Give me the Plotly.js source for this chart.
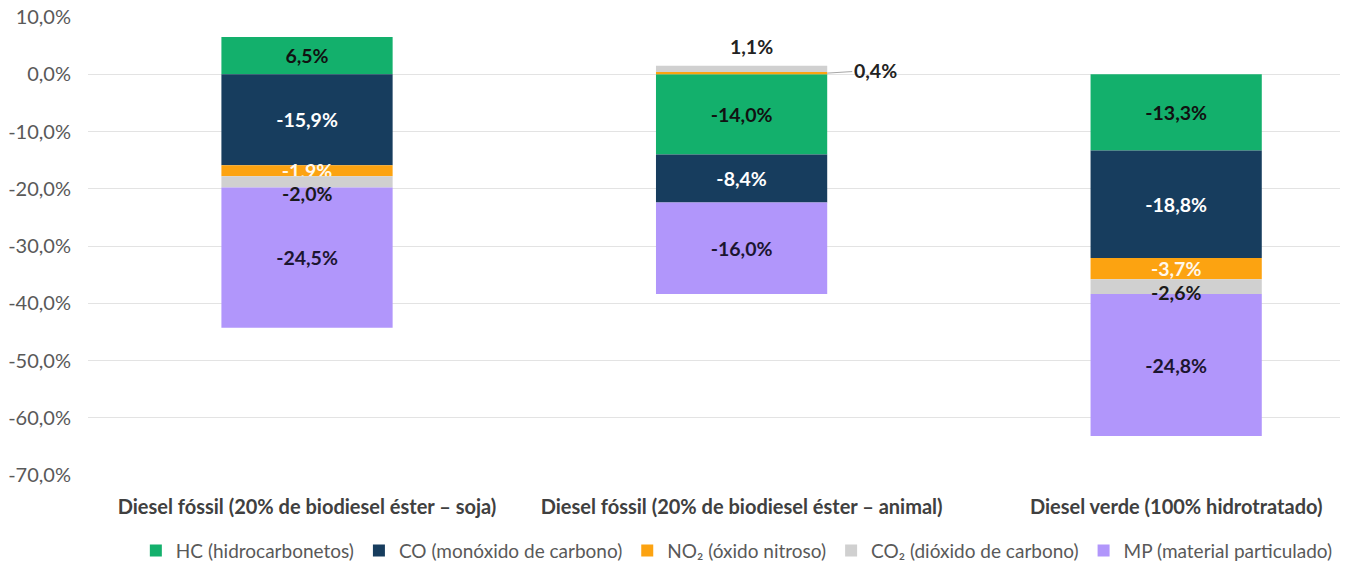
<!DOCTYPE html>
<html>
<head>
<meta charset="utf-8">
<script src="https://cdn.plot.ly/plotly-3.0.1.min.js"></script>
<style>html,body{margin:0;padding:0;background:#fff;}#chart{width:1352px;height:566px;}</style>
</head>
<body>
<div id="chart"></div>
<script>
const categories = [
  "Diesel fóssil (20% de biodiesel éster – soja)",
  "Diesel fóssil (20% de biodiesel éster – animal)",
  "Diesel verde (100% hidrotratado)"
];
const seriesNames = [
  "HC (hidrocarbonetos)",
  "CO (monóxido de carbono)",
  "NO₂ (óxido nitroso)",
  "CO₂ (dióxido de carbono)",
  "MP (material particulado)"
];
const hcValues  = [6.5, -14.0, -13.3];
const coValues  = [-15.9, -8.4, -18.8];
const no2Values = [-1.9, 0.4, -3.7];
const co2Values = [-2.0, 1.1, -2.6];
const mpValues  = [-24.5, -16.0, -24.8];
const yTickVals = [10, 0, -10, -20, -30, -40, -50, -60, -70];
const yTickText = ["10,0%", "0,0%", "-10,0%", "-20,0%", "-30,0%", "-40,0%", "-50,0%", "-60,0%", "-70,0%"];

const colors = ["#13b06c", "#173d5e", "#fca311", "#d0d0d0", "#b196fb"];
const textColors = ["#111111", "#ffffff", "#fff8ec", "#1a1a1a", "#1c1530"];
const allValues = [hcValues, coValues, no2Values, co2Values, mpValues];

const fmt = v => v.toFixed(1).replace(".", ",") + "%";
const FONT = "Lato, 'Open Sans', sans-serif";
const LABEL_SIZE = 19.5;

// CO2 labels (index 3) and small positive labels are drawn as annotations
const annotated = (si, ci) => si === 3 || (allValues[si][ci] > 0 && allValues[si][ci] < 2);

const traces = allValues.map((vals, si) => ({
  type: "bar",
  name: seriesNames[si],
  x: categories,
  y: vals,
  width: 0.394,
  marker: {color: colors[si], line: {width: 0}},
  text: vals.map((v, ci) => annotated(si, ci) ? "" : fmt(v)),
  textposition: "inside",
  insidetextanchor: "middle",
  constraintext: "none",
  textangle: 0,
  textfont: {family: FONT, size: LABEL_SIZE, color: textColors[si], weight: "bold"},
  hoverinfo: "skip"
}));

// compute stack positions (relative mode) to place annotations
function stackBounds(si, ci) {
  let pos = 0, neg = 0;
  for (let k = 0; k < si; k++) {
    const v = allValues[k][ci];
    if (v >= 0) pos += v; else neg += v;
  }
  const v = allValues[si][ci];
  return v >= 0 ? [pos, pos + v] : [neg, neg + v];
}

const annotations = [];
categories.forEach((cat, ci) => {
  const v = co2Values[ci];
  const [b0, b1] = stackBounds(3, ci);
  if (v < 0) {
    annotations.push({
      x: cat, y: b1, xref: "x", yref: "y",
      text: "<b>" + fmt(v) + "</b>", showarrow: false,
      yanchor: "middle", yshift: ci === 0 ? -6 : 2,
      font: {family: FONT, size: LABEL_SIZE, color: textColors[3]}
    });
  } else {
    annotations.push({
      x: cat, y: b1, xref: "x", yref: "y",
      text: "<b>" + fmt(v) + "</b>", showarrow: false,
      yanchor: "bottom", xshift: 10, yshift: 6,
      font: {family: FONT, size: LABEL_SIZE, color: "#222"}
    });
  }
  const n = no2Values[ci];
  if (n > 0 && n < 2) {
    const [n0, n1] = stackBounds(2, ci);
    annotations.push({
      x: ci + 0.197, y: (n0 + n1) / 2, xref: "x", yref: "y",
      text: "<b>" + fmt(n) + "</b>", showarrow: true,
      arrowhead: 0, arrowwidth: 1, arrowcolor: "#a6a6a6",
      ax: 48, ay: -3, standoff: 0,
      font: {family: FONT, size: LABEL_SIZE, color: "#222"}
    });
  }
});

const layout = {
  width: 1352, height: 566,
  margin: {l: 88, r: 12, t: 17, b: 91},
  paper_bgcolor: "#fff", plot_bgcolor: "#fff",
  barmode: "relative",
  font: {family: FONT, size: 18, color: "#595959"},
  showlegend: true,
  legend: {
    orientation: "h", x: 0.545, xanchor: "center",
    xref: "container", yref: "container", y: 0.027, yanchor: "middle",
    font: {family: FONT, size: 19, color: "#595959"},
    traceorder: "normal", itemwidth: 30, tracegroupgap: 0
  },
  xaxis: {
    type: "category",
    range: [-0.504, 2.377],
    showgrid: false, zeroline: false, showline: false, ticks: "",
    tickfont: {family: FONT, size: 20, color: "#404040", weight: "bold"},
    ticklabelstandoff: 18, automargin: false
  },
  yaxis: {
    range: [-70, 10],
    tickvals: yTickVals, ticktext: yTickText,
    showgrid: true, gridcolor: "#e3e3e3", gridwidth: 1,
    zeroline: false, showline: false, ticks: "",
    tickfont: {family: FONT, size: 20, color: "#595959"},
    ticklabelstandoff: 16, automargin: false
  },
  annotations: annotations
};

Plotly.newPlot("chart", traces, layout, {displayModeBar: false, staticPlot: true});
</script>
</body>
</html>
